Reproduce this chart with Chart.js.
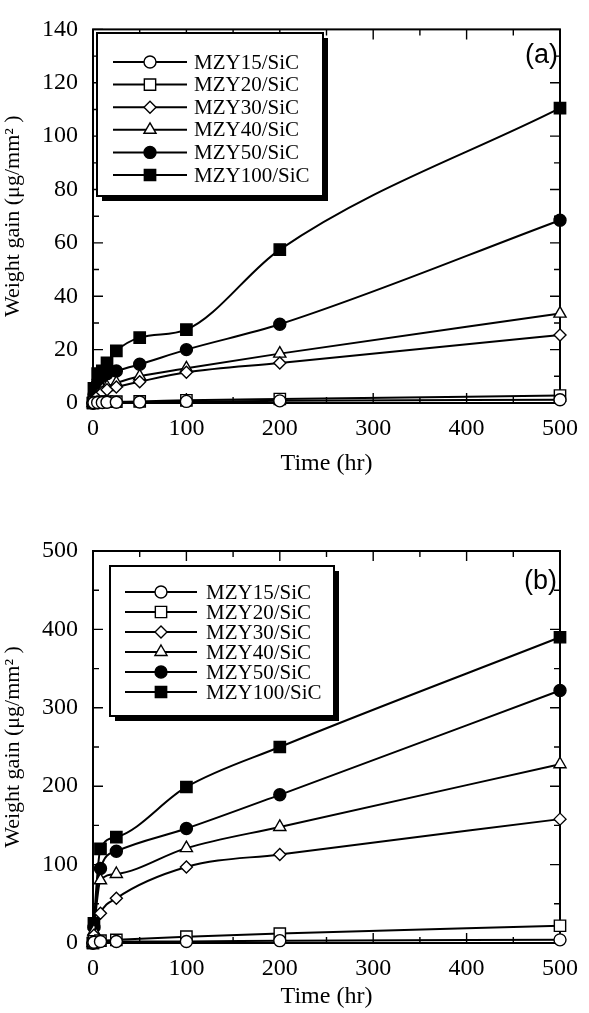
<!DOCTYPE html>
<html>
<head>
<meta charset="utf-8">
<script src="https://cdn.jsdelivr.net/npm/chart.js@4.4.1/dist/chart.umd.min.js"></script>
<style>
  body { margin: 0; background: #fff; }
  canvas { position: absolute; left: 0; }
  #chartA { top: 0; }
  #chartB { top: 500px; }
</style>
</head>
<body>
<canvas id="chartA" width="589" height="500"></canvas>
<canvas id="chartB" width="589" height="513"></canvas>
<script>
// series labels and marker styles
const seriesNames = ["MZY15/SiC", "MZY20/SiC", "MZY30/SiC", "MZY40/SiC", "MZY50/SiC", "MZY100/SiC"];
const markerStyles = ["circle", "rect", "rectRot", "triangle", "circle", "rect"];
const markerFilled = [false, false, false, false, true, true];
const markerSizes = [6, 8, 6, 7, 6, 8];

// (a) weight gain, ug/mm2
const timesA = [0, 1, 5, 10, 15, 25, 50, 100, 200, 500];
const mzy15A = [0, 0.1, 0.2, 0.2, 0.3, 0.3, 0.4, 0.6, 0.8, 1.2];
const mzy20A = [0, 0.2, 0.3, 0.4, 0.5, 0.5, 0.6, 1.0, 1.5, 2.8];
const mzy30A = [0, 1, 2.5, 4, 5, 6, 8, 11.5, 15, 25.5];
const mzy40A = [0, 1, 3, 5, 6, 7.5, 10, 13, 18.5, 33.5];
const mzy50A = [0, 3, 8, 10, 11, 12, 14.5, 20, 29.5, 68.5];
const mzy100A = [0, 5.5, 11, 12, 15, 19.5, 24.5, 27.5, 57.5, 110.5];

// (b) weight gain, ug/mm2
const timesB = [0, 1, 8, 25, 100, 200, 500];
const mzy15B = [0, 1, 2, 2, 2, 3, 4];
const mzy20B = [0, 2, 3, 4, 8, 12, 22];
const mzy30B = [0, 10, 38, 57, 97, 113, 158];
const mzy40B = [0, 15, 80, 88, 121, 148, 228];
const mzy50B = [0, 20, 95, 117, 146, 189, 322];
const mzy100B = [0, 25, 120, 135, 199, 250, 390];

const serif = "'Liberation Serif', 'Times New Roman', serif";
Chart.defaults.font.family = serif;
Chart.defaults.color = "#000";

function drawMarker(ctx, style, filled, r, x, y) {
    ctx.beginPath();
    if (style === "circle") {
        ctx.arc(x, y, r, 0, Math.PI * 2);
    } else if (style === "rect") {
        const s = Math.SQRT1_2 * r;
        ctx.rect(x - s, y - s, 2 * s, 2 * s);
    } else if (style === "rectRot") {
        ctx.moveTo(x, y - r); ctx.lineTo(x + r, y); ctx.lineTo(x, y + r); ctx.lineTo(x - r, y); ctx.closePath();
    } else if (style === "triangle") {
        ctx.moveTo(x, y - r);
        ctx.lineTo(x + Math.sin(2 * Math.PI / 3) * r, y + r / 2);
        ctx.lineTo(x - Math.sin(2 * Math.PI / 3) * r, y + r / 2);
        ctx.closePath();
    }
    ctx.fillStyle = filled ? "#000" : "#fff";
    ctx.fill();
    ctx.lineWidth = 1.4;
    ctx.strokeStyle = "#000";
    ctx.stroke();
}

function makeDatasets(times, seriesList) {
    return seriesList.map((vals, i) => ({
        label: seriesNames[i],
        data: times.map((t, k) => ({ x: t, y: vals[k] })),
        borderColor: "#000",
        borderWidth: 2,
        pointStyle: markerStyles[i],
        pointRadius: markerSizes[i],
        pointBackgroundColor: markerFilled[i] ? "#000" : "#fff",
        pointBorderColor: "#000",
        pointBorderWidth: 1.4,
        cubicInterpolationMode: "monotone",
        clip: false
    }));
}

// frame with inward ticks on all four sides, legend box and panel tag
const framePlugin = {
    id: "frame",
    beforeDatasetsDraw(chart, args, opts) {
        const { ctx, chartArea: a, scales: { x, y } } = chart;
        ctx.save();
        ctx.strokeStyle = "#000";
        ctx.lineWidth = 2;
        ctx.strokeRect(a.left, a.top, a.right - a.left, a.bottom - a.top);
        ctx.lineWidth = 1.4;
        ctx.beginPath();
        for (let v = x.min; v <= x.max; v += opts.xMinor) {
            const px = x.getPixelForValue(v);
            const len = v % opts.xMajor === 0 ? 10 : 6;
            ctx.moveTo(px, a.bottom); ctx.lineTo(px, a.bottom - len);
            ctx.moveTo(px, a.top); ctx.lineTo(px, a.top + len);
        }
        for (let v = y.min; v <= y.max; v += opts.yMinor) {
            const py = y.getPixelForValue(v);
            const len = v % opts.yMajor === 0 ? 10 : 6;
            ctx.moveTo(a.left, py); ctx.lineTo(a.left + len, py);
            ctx.moveTo(a.right, py); ctx.lineTo(a.right - len, py);
        }
        ctx.stroke();
        ctx.restore();
    },
    afterDatasetsDraw(chart, args, opts) {
        const { ctx } = chart;
        const L = opts.legend;
        ctx.save();
        ctx.fillStyle = "#000";
        ctx.fillRect(L.x + 5, L.y + 5, L.w, L.h);
        ctx.fillStyle = "#fff";
        ctx.fillRect(L.x, L.y, L.w, L.h);
        ctx.lineWidth = 2;
        ctx.strokeStyle = "#000";
        ctx.strokeRect(L.x, L.y, L.w, L.h);
        ctx.font = L.fontSize + "px " + serif;
        ctx.textBaseline = "middle";
        seriesNames.forEach((name, i) => {
            const yy = L.row0 + i * L.dy;
            ctx.beginPath();
            ctx.lineWidth = 2;
            ctx.moveTo(L.lineX1, yy); ctx.lineTo(L.lineX2, yy);
            ctx.stroke();
            drawMarker(ctx, markerStyles[i], markerFilled[i], markerSizes[i], (L.lineX1 + L.lineX2) / 2, yy);
            ctx.fillStyle = "#000";
            ctx.fillText(name, L.textX, yy + 1);
        });
        ctx.font = "27px 'Liberation Sans', Arial, sans-serif";
        ctx.textAlign = "right";
        ctx.fillText(opts.tag.text, opts.tag.x, opts.tag.y);
        ctx.restore();
    }
};

function makeChart(id, times, seriesList, yMax, yStep, pad, xAxisH, titlePadBottom, frameOpts) {
    return new Chart(document.getElementById(id), {
        type: "line",
        data: { datasets: makeDatasets(times, seriesList) },
        plugins: [framePlugin],
        options: {
            responsive: false,
            animation: false,
            devicePixelRatio: 1,
            layout: { padding: pad },
            plugins: { legend: { display: false }, tooltip: { enabled: false }, frame: frameOpts },
            scales: {
                x: {
                    type: "linear", min: 0, max: 500,
                    grid: { display: false, drawTicks: false },
                    border: { display: false },
                    ticks: { stepSize: 100, font: { size: 24 }, padding: 11 },
                    title: { display: true, text: "Time (hr)", font: { size: 24 }, padding: { top: 0, bottom: titlePadBottom } },
                    afterFit: s => { s.height = xAxisH; }
                },
                y: {
                    min: 0, max: yMax,
                    grid: { display: false, drawTicks: false },
                    border: { display: false },
                    ticks: { stepSize: yStep, font: { size: 24 }, padding: 15 },
                    title: { display: true, text: "Weight gain (μg/mm² )", font: { size: 22 }, padding: 0 },
                    afterFit: s => { s.width = 93; }
                }
            }
        }
    });
}

makeChart("chartA", timesA, [mzy15A, mzy20A, mzy30A, mzy40A, mzy50A, mzy100A], 140, 20,
    { top: 14, right: 21, left: 0, bottom: 0 }, 97, 22,
    {
        xMajor: 100, xMinor: 50, yMajor: 20, yMinor: 10,
        legend: { x: 97, y: 33, w: 226, h: 163, row0: 62, dy: 22.6, lineX1: 113, lineX2: 187, textX: 194, fontSize: 21 },
        tag: { text: "(a)", x: 558, y: 56 }
    });

makeChart("chartB", timesB, [mzy15B, mzy20B, mzy30B, mzy40B, mzy50B, mzy100B], 500, 100,
    { top: 51, right: 20, left: 0, bottom: 0 }, 70, 2,
    {
        xMajor: 100, xMinor: 50, yMajor: 100, yMinor: 50,
        legend: { x: 110, y: 66, w: 224, h: 150, row0: 92, dy: 20, lineX1: 125, lineX2: 197, textX: 206, fontSize: 21 },
        tag: { text: "(b)", x: 557, y: 82 }
    });
</script>
</body>
</html>
